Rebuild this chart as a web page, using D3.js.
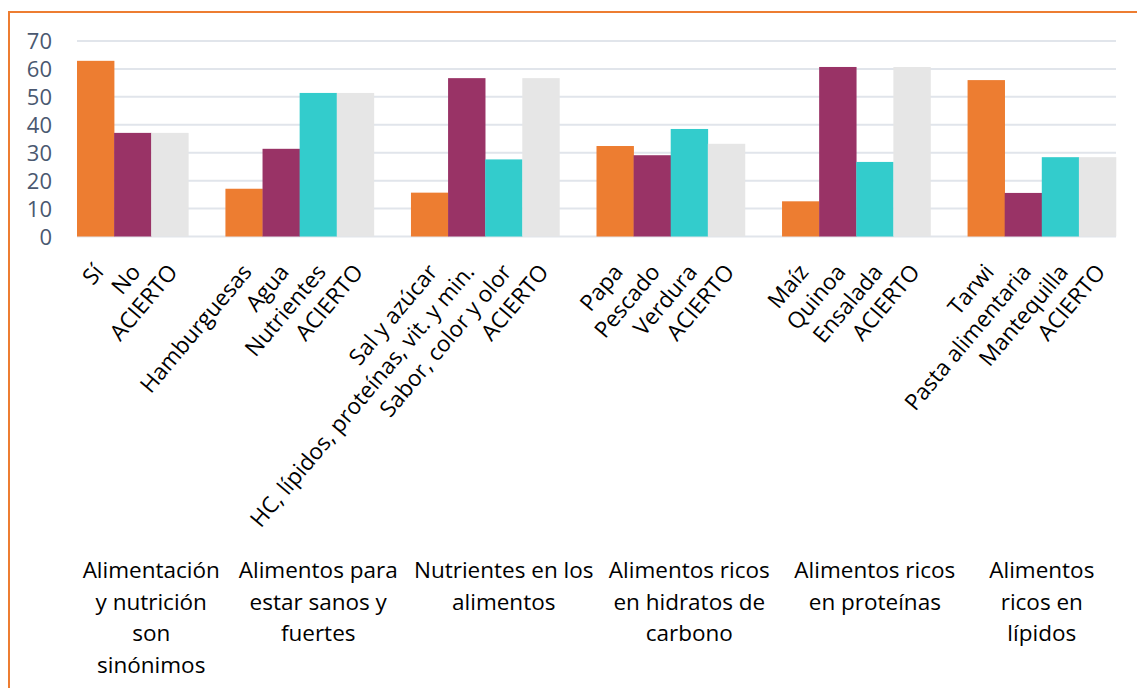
<!DOCTYPE html>
<html>
<head>
<meta charset="utf-8">
<script src="https://cdn.jsdelivr.net/npm/d3@7"></script>
<style>
  html, body { margin: 0; padding: 0; background: #fff; }
  svg { display: block; font-family: "Open Sans", "Noto Sans", sans-serif; }
</style>
</head>
<body>
<svg id="chart" width="1137" height="688"></svg>
<script>
// Question groups (bottom-level axis labels, pre-broken into lines)
const groupLines = [
  ["Alimentación", "y nutrición", "son", "sinónimos"],
  ["Alimentos para", "estar sanos y", "fuertes"],
  ["Nutrientes en los", "alimentos"],
  ["Alimentos ricos", "en hidratos de", "carbono"],
  ["Alimentos ricos", "en proteínas"],
  ["Alimentos", "ricos en", "lípidos"]
];

// Answer options per question (the last one is always the correct-answer share)
const answerLabels = [
  ["Sí", "No", "ACIERTO"],
  ["Hamburguesas", "Agua", "Nutrientes", "ACIERTO"],
  ["Sal y azúcar", "HC, lípidos, proteínas, vit. y min.", "Sabor, color y olor", "ACIERTO"],
  ["Papa", "Pescado", "Verdura", "ACIERTO"],
  ["Maíz", "Quinoa", "Ensalada", "ACIERTO"],
  ["Tarwi", "Pasta alimentaria", "Mantequilla", "ACIERTO"]
];

// Percentage of respondents per answer option
const answerValues = [
  [62.9, 37.1, 37.1],
  [17.1, 31.4, 51.4, 51.4],
  [15.7, 56.7, 27.6, 56.7],
  [32.4, 29.1, 38.5, 33.2],
  [12.6, 60.7, 26.7, 60.7],
  [56.0, 15.6, 28.4, 28.4]
];

const yTicks = [0, 10, 20, 30, 40, 50, 60, 70];

const optionColors = ["#ED7D31", "#993366", "#33CCCC"];
const correctColor = "#E6E6E6";

// Build a flat list of slots: one per bar plus one spacer after every group but the last
const slots = [];
const groupSlots = [];
answerLabels.forEach((labels, g) => {
  const ids = [];
  labels.forEach((lab, i) => {
    const isCorrect = i === labels.length - 1;
    const id = `g${g}-b${i}`;
    slots.push({ id, label: lab, value: answerValues[g][i],
      color: isCorrect ? correctColor : optionColors[i], group: g });
    ids.push(id);
  });
  if (g < answerLabels.length - 1) {
    const id = `g${g}-gap`;
    slots.push({ id, label: null, value: null, group: g });
    ids.push(id);
  }
  groupSlots.push(ids);
});

const svg = d3.select("#chart");
const W = 1137, H = 688;
const plot = { left: 77, right: 1116, top: 41, bottom: 236.5 };

// Chart frame
svg.append("rect")
  .attr("x", 9).attr("y", 12)
  .attr("width", W + 20).attr("height", H + 20)
  .attr("fill", "none").attr("stroke", "#ED7D31").attr("stroke-width", 2);

const x = d3.scaleBand()
  .domain(slots.map(d => d.id))
  .range([plot.left, plot.right])
  .paddingInner(0).paddingOuter(0);

const y = d3.scaleLinear().domain([0, 70]).range([plot.bottom, plot.top]);

// Gridlines
svg.append("g")
  .selectAll("line")
  .data(yTicks)
  .join("line")
  .attr("x1", plot.left).attr("x2", plot.right)
  .attr("y1", d => y(d)).attr("y2", d => y(d))
  .attr("stroke", "#E1E5EB").attr("stroke-width", 2);

// Y axis labels
const yAxis = d3.axisLeft(y).tickValues(yTicks).tickSize(0).tickPadding(0);
const yg = svg.append("g")
  .attr("transform", `translate(52,0)`)
  .call(yAxis);
yg.select(".domain").remove();
yg.selectAll("text")
  .attr("font-family", "'Open Sans', sans-serif")
  .attr("font-size", 22)
  .attr("fill", "#4A5870")
  .attr("dy", "0.36em");

// Bars
const bars = slots.filter(d => d.value !== null);
svg.append("g")
  .selectAll("rect")
  .data(bars)
  .join("rect")
  .attr("x", d => x(d.id))
  .attr("width", x.bandwidth() + 0.3)
  .attr("y", d => y(d.value))
  .attr("height", d => y(0) - y(d.value))
  .attr("fill", d => d.color);

// Rotated answer labels
const labelAngle = -50;
svg.append("g")
  .selectAll("text")
  .data(bars)
  .join("text")
  .attr("transform", d => `translate(${x(d.id) + x.bandwidth() / 2 + 3},${plot.bottom + 31}) rotate(${labelAngle})`)
  .attr("text-anchor", "end")
  .attr("dy", "0.35em")
  .attr("font-size", 22.5)
  .attr("fill", "#000")
  .text(d => d.label);

// Question group labels
const gl = svg.append("g")
  .selectAll("text")
  .data(groupLines)
  .join("text")
  .attr("text-anchor", "middle")
  .attr("font-size", 22.5)
  .attr("fill", "#000")
  .attr("transform", (d, g) => {
    const ids = groupSlots[g];
    const x0 = x(ids[0]);
    const x1 = x(ids[ids.length - 1]) + x.bandwidth();
    return `translate(${(x0 + x1) / 2},578)`;
  });
gl.selectAll("tspan")
  .data(d => d)
  .join("tspan")
  .attr("x", 0)
  .attr("y", (d, i) => i * 31.7)
  .text(d => d);
</script>
</body>
</html>
